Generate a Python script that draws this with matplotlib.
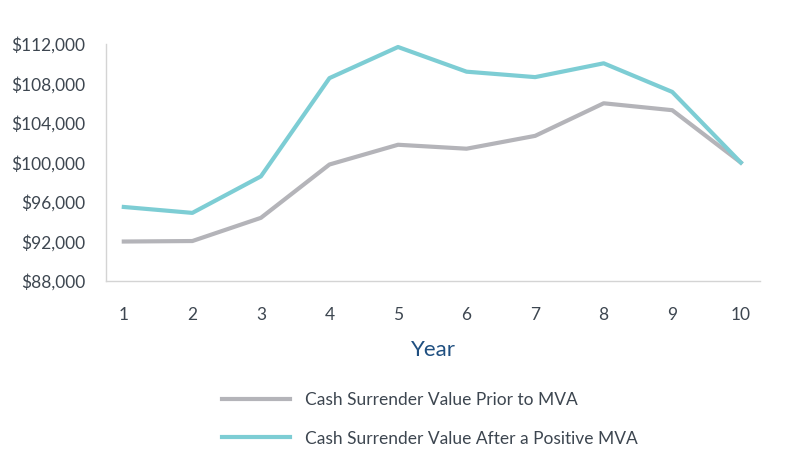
import matplotlib
matplotlib.use('Agg')
import matplotlib.pyplot as plt
from matplotlib.ticker import FuncFormatter

# Data
years = [1, 2, 3, 4, 5, 6, 7, 8, 9, 10]
prior_mva = [92000, 92050, 94400, 99800, 101800, 101400, 102700, 106000, 105300, 100000]
after_mva = [95500, 94900, 98600, 108550, 111700, 109200, 108650, 110050, 107150, 100000]
y_ticks = [88000, 92000, 96000, 100000, 104000, 108000, 112000]

plt.rcParams['font.family'] = ['Lato', 'DejaVu Sans']

fig = plt.figure(figsize=(8.01, 4.54), dpi=100)
ax = fig.add_axes([0.1323, 0.381, 0.8165, 0.522])

ax.plot(years, prior_mva, color='#b4b4b9', linewidth=3, label='Cash Surrender Value Prior to MVA')
ax.plot(years, after_mva, color='#7dcdd4', linewidth=3, label='Cash Surrender Value After a Positive MVA')

ax.set_xlim(0.74, 10.28)
ax.set_ylim(88000, 112000)
ax.set_xticks(years)
ax.set_yticks(y_ticks)
ax.yaxis.set_major_formatter(FuncFormatter(lambda v, p: '${:,.0f}'.format(v)))

for s in ['top', 'right']:
    ax.spines[s].set_visible(False)
for s in ['left', 'bottom']:
    ax.spines[s].set_color('#d4d4d4')
    ax.spines[s].set_linewidth(1)
ax.tick_params(length=0, labelsize=12.5, colors='#3d4650')
ax.tick_params(axis='x', pad=19)
ax.tick_params(axis='y', pad=15)

ax.set_xlabel('Year', fontsize=16, color='#1f4f80', labelpad=12)

fig.legend(loc='upper left', bbox_to_anchor=(222 / 801, 1 - 392 / 454), frameon=False,
           fontsize=12.5, handlelength=3.9, handletextpad=0.86, labelspacing=1.3,
           borderpad=0, borderaxespad=0, labelcolor='#3d4650')

plt.savefig('out.png', dpi=100)
